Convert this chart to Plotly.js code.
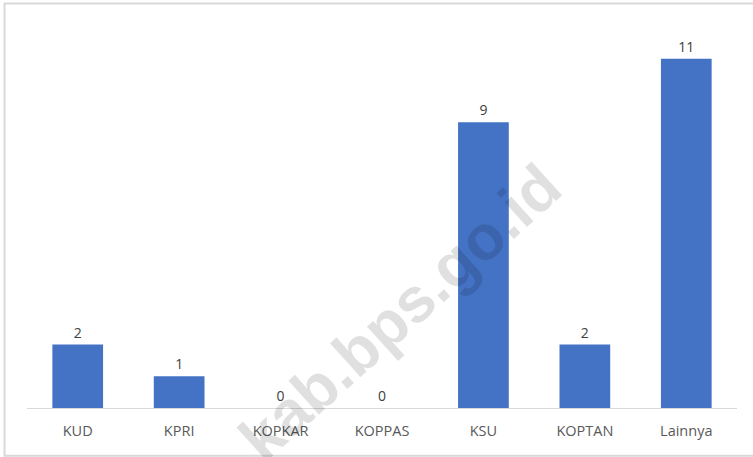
<!DOCTYPE html>
<html>
<head>
<meta charset="utf-8">
<script src="https://cdn.plot.ly/plotly-3.0.1.min.js"></script>
<style>
html,body{margin:0;padding:0;background:#fff;}
#chart{width:753px;height:457px;}
</style>
</head>
<body>
<div id="chart"></div>
<script>
const categories = ["KUD", "KPRI", "KOPKAR", "KOPPAS", "KSU", "KOPTAN", "Lainnya"];
const values = [2, 1, 0, 0, 9, 2, 11];

const W = 753, H = 457;
const mL = 27, mR = 16, mT = 26.6, mB = 49.3;
const pw = W - mL - mR, ph = H - mT - mB;
const px = x => (x - mL) / pw;
const py = y => (H - mB - y) / ph;

const trace = {
  type: "bar",
  x: categories,
  y: values,
  marker: {color: "#4472C4"},
  width: 0.5,
  text: values.map(String),
  textposition: "outside",
  cliponaxis: false,
  textfont: {family: "Open Sans, sans-serif", size: 14, color: "#404040"},
  hoverinfo: "x+y"
};

const layout = {
  width: W, height: H,
  margin: {l: mL, r: mR, t: mT, b: mB, pad: 0},
  paper_bgcolor: "#ffffff",
  plot_bgcolor: "#ffffff",
  showlegend: false,
  font: {family: "Open Sans, sans-serif", size: 14, color: "#595959"},
  xaxis: {
    type: "category",
    showline: true, linecolor: "#d9d9d9", linewidth: 1,
    ticks: "", showgrid: false, zeroline: false,
    tickfont: {family: "Open Sans, sans-serif", size: 14.5, color: "#595959"},
    ticklabelstandoff: 10
  },
  yaxis: {
    range: [0, 12], visible: false, showgrid: false, zeroline: false
  },
  shapes: [{
    type: "rect", xref: "paper", yref: "paper",
    x0: px(4.5), x1: px(770), y0: py(455.5), y1: py(3),
    line: {color: "#d9d9d9", width: 2}, fillcolor: "rgba(0,0,0,0)", layer: "above"
  }],
  annotations: [{
    text: "<b>kab.bps.go.id</b>",
    xref: "paper", yref: "paper",
    x: px(400), y: py(312),
    xanchor: "center", yanchor: "middle",
    showarrow: false,
    textangle: -42,
    font: {family: "Liberation Sans, Arial, sans-serif", size: 63, color: "rgba(0,0,0,0.12)"}
  }]
};

Plotly.newPlot("chart", [trace], layout, {displayModeBar: false, staticPlot: true});
</script>
</body>
</html>
